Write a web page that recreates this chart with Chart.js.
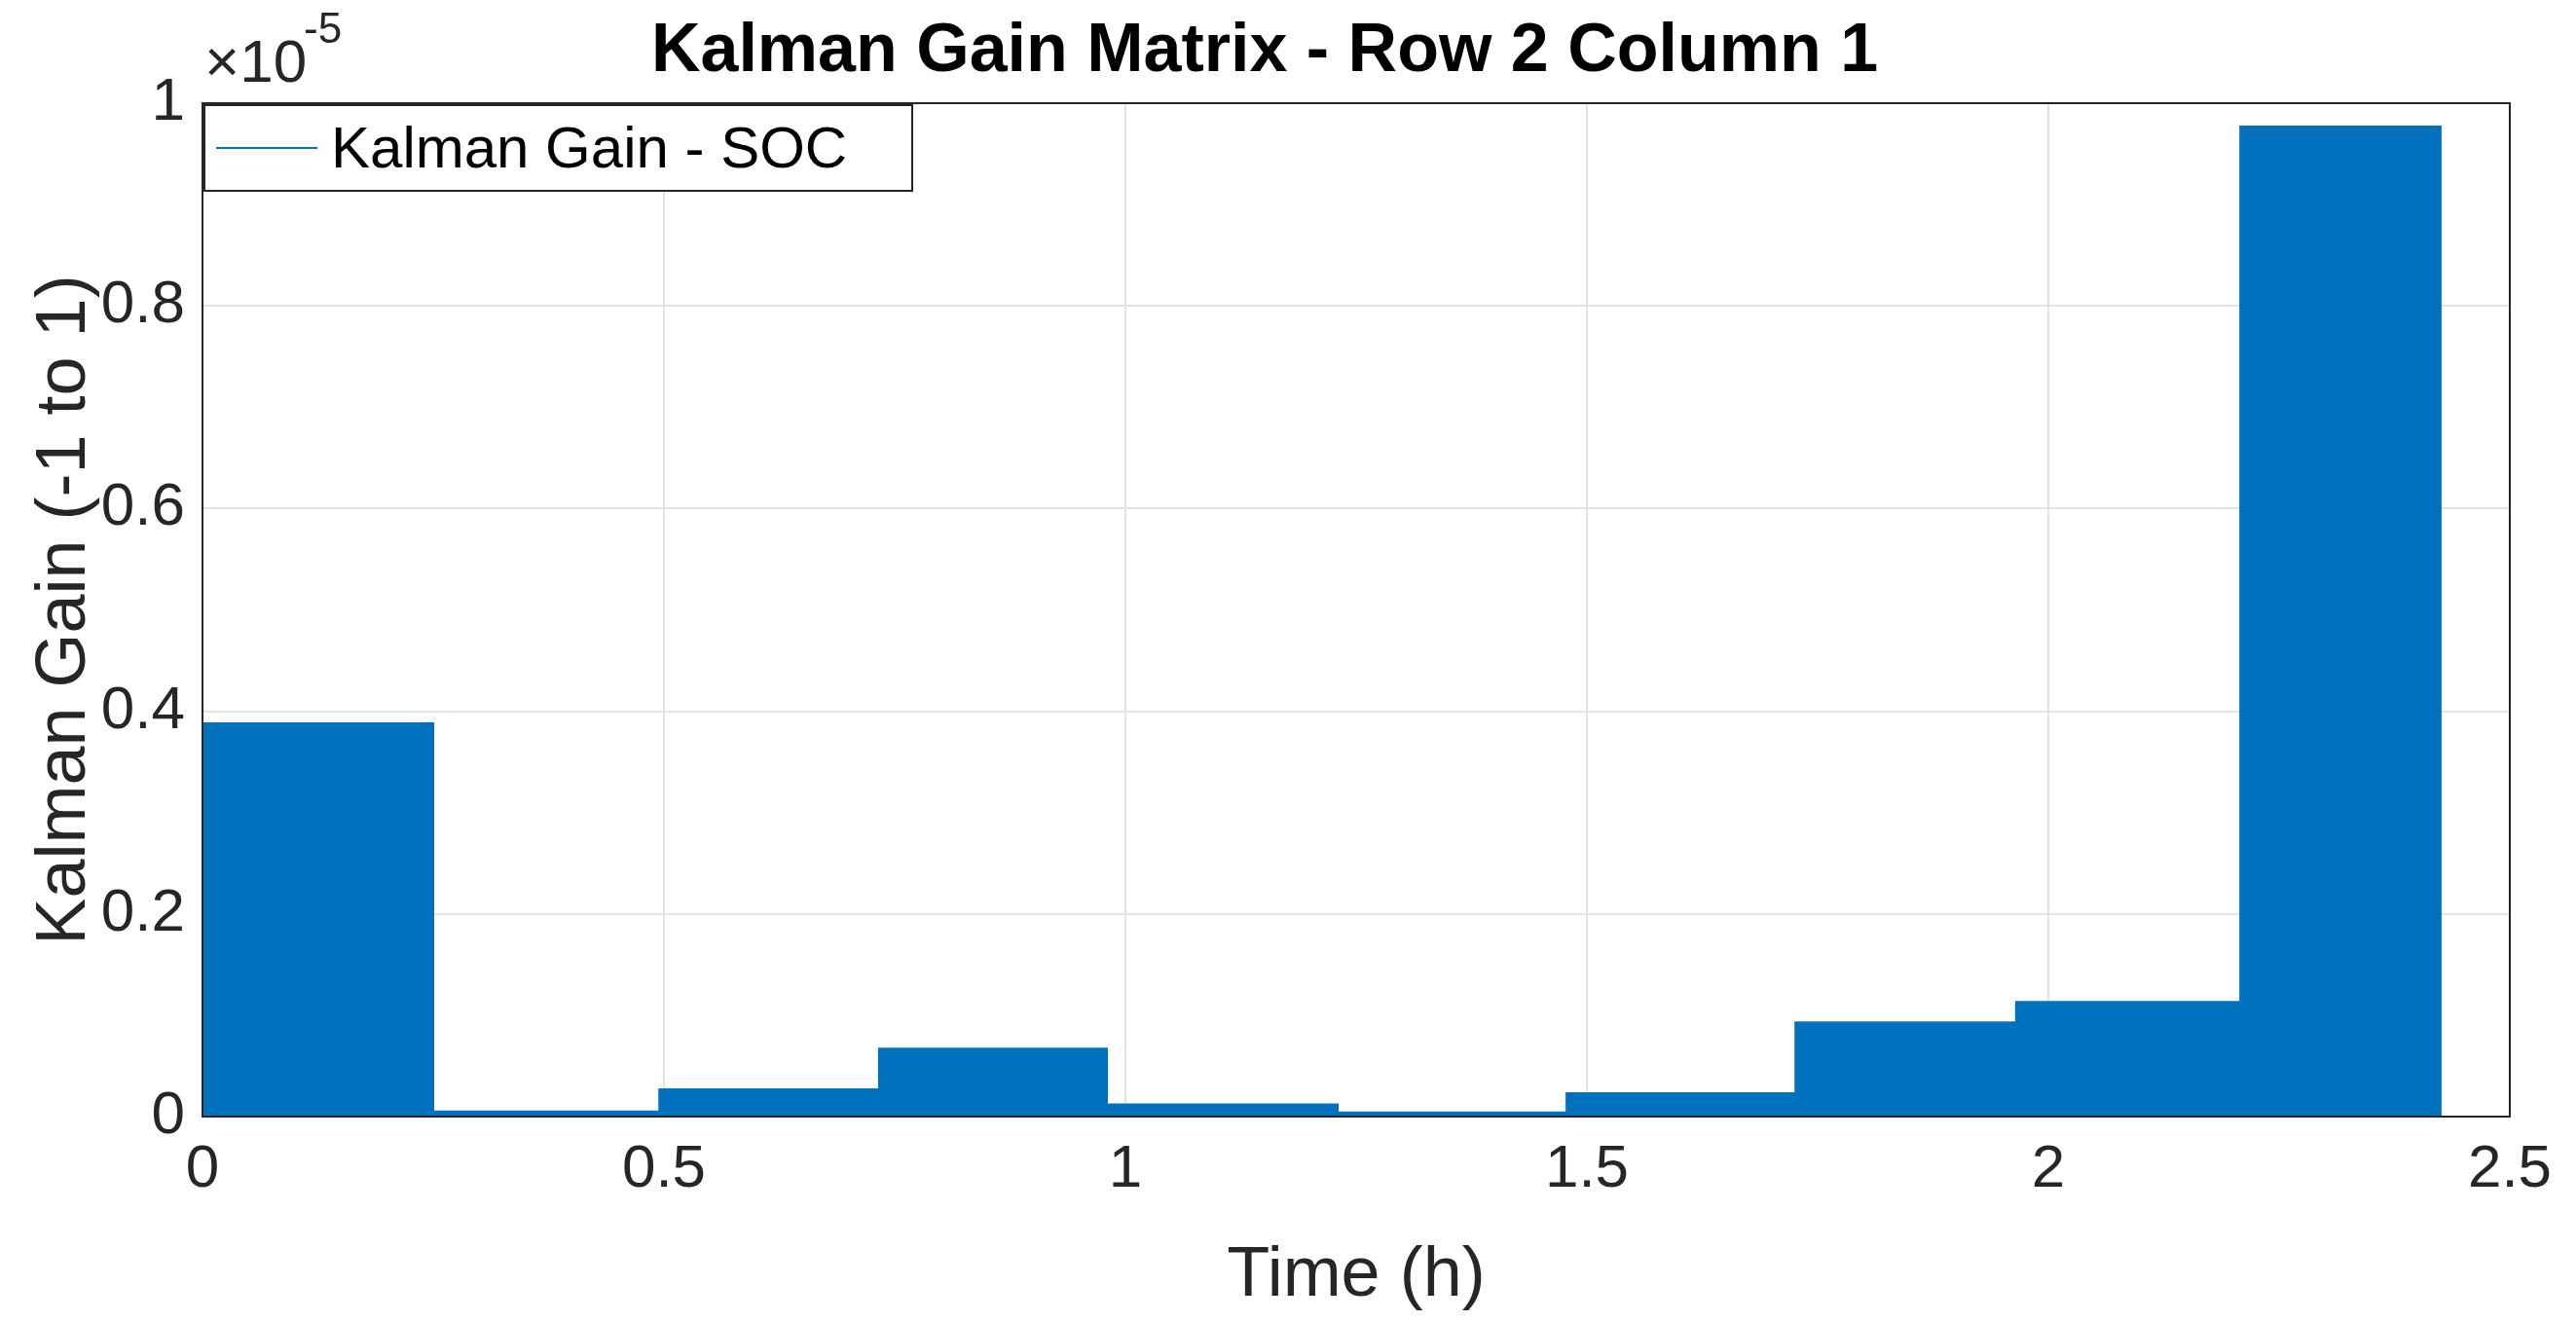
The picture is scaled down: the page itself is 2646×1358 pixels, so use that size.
<!DOCTYPE html>
<html>
<head>
<meta charset="utf-8">
<script src="https://cdn.jsdelivr.net/npm/chart.js@4/dist/chart.umd.min.js"></script>
<style>
  html, body { margin: 0; padding: 0; background: #fff; }
  #wrap { width: 2646px; height: 1358px; }
</style>
</head>
<body>
<div id="wrap"><canvas id="kalman"></canvas></div>
<script>
// segment boundaries (h) and gain level of each segment (x1e-5)
const segStart = [0, 0.25, 0.495, 0.733, 0.98, 1.23, 1.478, 1.726, 1.965, 2.208];
const segEnd   = [0.25, 0.495, 0.733, 0.98, 1.23, 1.478, 1.726, 1.965, 2.208, 2.425];
const segLevel = [0.388, 0.005, 0.027, 0.067, 0.012, 0.004, 0.023, 0.093, 0.113, 0.977];
const xTicks = [0, 0.5, 1, 1.5, 2, 2.5];
const yTicks = [0, 0.2, 0.4, 0.6, 0.8, 1];

const points = [];
segStart.forEach((s, i) => {
    points.push({ x: s, y: segLevel[i] });
    points.push({ x: segEnd[i], y: segLevel[i] });
});
points.push({ x: segEnd[segEnd.length - 1], y: 0 });

const blue = '#0072BD';
const font = 'Arial, "Liberation Sans", sans-serif';

const frame = {
    id: 'frame',
    afterDraw(chart) {
        const { ctx, chartArea: a } = chart;
        ctx.save();
        ctx.strokeStyle = '#262626';
        ctx.lineWidth = 2;
        ctx.strokeRect(a.left, a.top, a.right - a.left, a.bottom - a.top);
        // exponent label
        ctx.fillStyle = '#262626';
        ctx.font = '62px ' + font;
        ctx.textBaseline = 'alphabetic';
        ctx.fillText('\u00d710', a.left + 2, a.top - 22);
        ctx.font = '44px ' + font;
        ctx.fillText('-5', a.left + 104, a.top - 62);
        // legend box
        const lx = a.left + 2, ly = a.top + 2, lw = 727, lh = 88;
        ctx.fillStyle = '#fff';
        ctx.fillRect(lx, ly, lw, lh);
        ctx.strokeStyle = '#262626';
        ctx.lineWidth = 2;
        ctx.strokeRect(lx, ly, lw, lh);
        ctx.strokeStyle = blue;
        ctx.lineWidth = 2;
        ctx.beginPath();
        ctx.moveTo(lx + 12, ly + lh / 2);
        ctx.lineTo(lx + 116, ly + lh / 2);
        ctx.stroke();
        ctx.fillStyle = '#000';
        ctx.font = '60px ' + font;
        ctx.textBaseline = 'middle';
        ctx.fillText('Kalman Gain - SOC', lx + 130, ly + lh / 2 + 3);
        ctx.restore();
    }
};

new Chart(document.getElementById('kalman'), {
    type: 'line',
    data: {
        datasets: [{
            label: 'Kalman Gain - SOC',
            data: points,
            borderColor: blue,
            backgroundColor: blue,
            borderWidth: 2,
            pointRadius: 0,
            fill: 'origin',
            tension: 0
        }]
    },
    options: {
        responsive: true,
        maintainAspectRatio: false,
        animation: false,
        layout: { padding: { left: 20, right: 68, top: 12, bottom: 0 } },
        plugins: {
            legend: { display: false },
            tooltip: { enabled: false },
            title: {
                display: true,
                text: 'Kalman Gain Matrix - Row 2 Column 1',
                color: '#000',
                font: { family: font, size: 70, weight: 'bold' },
                padding: { top: 0, bottom: 10 },
                position: 'top'
            }
        },
        scales: {
            x: {
                type: 'linear',
                min: 0, max: 2.5,
                afterBuildTicks: s => { s.ticks = xTicks.map(v => ({ value: v })); },
                afterFit: s => { s.height = 211; },
                grid: { color: '#e3e3e3', lineWidth: 2, drawTicks: false },
                border: { display: false },
                ticks: { color: '#262626', font: { family: font, size: 62 }, padding: 18, maxRotation: 0, callback: v => String(v) },
                title: { display: true, text: 'Time (h)', color: '#262626', font: { family: font, size: 72 }, padding: { top: 0 } }
            },
            y: {
                min: 0, max: 1,
                afterBuildTicks: s => { s.ticks = yTicks.map(v => ({ value: v })); },
                afterFit: s => { s.width = 188; },
                grid: { color: '#e3e3e3', lineWidth: 2, drawTicks: false },
                border: { display: false },
                ticks: { color: '#262626', font: { family: font, size: 62 }, padding: 18, callback: v => String(v) },
                title: { display: true, text: 'Kalman Gain (-1 to 1)', color: '#262626', font: { family: font, size: 72 }, padding: { bottom: 0 } }
            }
        }
    },
    plugins: [frame]
});
</script>
</body>
</html>
